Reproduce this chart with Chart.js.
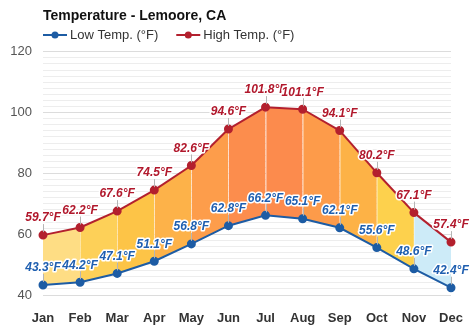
<!DOCTYPE html>
<html>
<head>
<meta charset="utf-8">
<script src="https://cdn.jsdelivr.net/npm/chart.js@4.4.1/dist/chart.umd.min.js"></script>
<style>
  html, body { margin: 0; padding: 0; background: #fff; }
  #wrap { width: 474px; height: 331px; position: relative; }
</style>
</head>
<body>
<div id="wrap"><canvas id="myChart"></canvas></div>
<script>
// data
const months = ['Jan', 'Feb', 'Mar', 'Apr', 'May', 'Jun', 'Jul', 'Aug', 'Sep', 'Oct', 'Nov', 'Dec'];
const lowTemps = [43.3, 44.2, 47.1, 51.1, 56.8, 62.8, 66.2, 65.1, 62.1, 55.6, 48.6, 42.4];
const highTemps = [59.7, 62.2, 67.6, 74.5, 82.6, 94.6, 101.8, 101.1, 94.1, 80.2, 67.1, 57.4];
const yTickLabels = [40, 60, 80, 100, 120];

// colour of the band between two months
const bandColors = ['#fedd84', '#fdd058', '#fdc447', '#fdb249', '#fd9d4b', '#fc8d4d',
                    '#fc8b4d', '#fd9b4a', '#fdb246', '#fdd14d', '#cdebf8'];

const lowColor = '#1d5ca4';
const highColor = '#b3202e';
const FONT = '"Liberation Sans", Arial, sans-serif';

// thin light lines inside the band at each month
const bandLines = {
  id: 'bandLines',
  beforeDatasetDraw(chart, args) {
    if (args.index !== 1) return;
    const lo = chart.getDatasetMeta(0).data;
    const hi = chart.getDatasetMeta(1).data;
    const ctx = chart.ctx;
    ctx.save();
    ctx.strokeStyle = 'rgba(255,255,255,0.35)';
    ctx.lineWidth = 1;
    for (let i = 1; i < hi.length - 1; i++) {
      ctx.beginPath();
      ctx.moveTo(Math.round(hi[i].x) + 0.5, hi[i].y);
      ctx.lineTo(Math.round(lo[i].x) + 0.5, lo[i].y);
      ctx.stroke();
    }
    ctx.restore();
  }
};

// value labels with a little leader line
const valueLabels = {
  id: 'valueLabels',
  afterDatasetsDraw(chart) {
    const ctx = chart.ctx;
    ctx.save();
    ctx.font = 'italic bold 12px ' + FONT;
    ctx.textAlign = 'center';
    ctx.textBaseline = 'middle';
    ctx.lineJoin = 'round';
    chart.data.datasets.forEach((ds, di) => {
      chart.getDatasetMeta(di).data.forEach((pt, i) => {
        const x = pt.x, y = pt.y;
        ctx.strokeStyle = '#b5b5b5';
        ctx.lineWidth = 1;
        ctx.beginPath();
        ctx.moveTo(Math.round(x) + 0.5, y - 11);
        ctx.lineTo(Math.round(x) + 0.5, y - 3);
        ctx.stroke();
        const txt = ds.data[i].toFixed(1) + '°F';
        ctx.strokeStyle = '#fff';
        ctx.lineWidth = 3;
        ctx.strokeText(txt, x, y - 17);
        ctx.fillStyle = ds.labelColor;
        ctx.fillText(txt, x, y - 17);
      });
    });
    ctx.restore();
  }
};

// legend drawn under the title, lined up with the plot's left edge
const lineLegend = {
  id: 'lineLegend',
  afterDraw(chart) {
    const ctx = chart.ctx;
    const y = 35;
    let x = chart.chartArea.left;
    ctx.save();
    ctx.font = '13px ' + FONT;
    ctx.textBaseline = 'middle';
    chart.data.datasets.forEach((ds) => {
      ctx.strokeStyle = ds.borderColor;
      ctx.fillStyle = ds.borderColor;
      ctx.lineWidth = 2;
      ctx.beginPath(); ctx.moveTo(x, y); ctx.lineTo(x + 24, y); ctx.stroke();
      ctx.beginPath(); ctx.arc(x + 12, y, 3.5, 0, Math.PI * 2); ctx.fill();
      ctx.fillStyle = '#333';
      ctx.fillText(ds.label, x + 27, y);
      x += 27 + ctx.measureText(ds.label).width + 18;
    });
    ctx.restore();
  }
};

const chart = new Chart(document.getElementById('myChart'), {
  type: 'line',
  data: {
    labels: months,
    datasets: [
      {
        label: 'Low Temp. (°F)',
        data: lowTemps,
        borderColor: lowColor,
        backgroundColor: lowColor,
        labelColor: '#1f5fb0',
        borderWidth: 2,
        pointRadius: 3.5,
        pointBackgroundColor: lowColor,
        fill: false,
        tension: 0
      },
      {
        label: 'High Temp. (°F)',
        data: highTemps,
        borderColor: highColor,
        backgroundColor: highColor,
        labelColor: '#b1182c',
        borderWidth: 2,
        pointRadius: 3.5,
        pointBackgroundColor: highColor,
        fill: 0,
        segment: {
          backgroundColor: (c) => bandColors[c.p0DataIndex]
        },
        tension: 0
      }
    ]
  },
  options: {
    responsive: true,
    maintainAspectRatio: false,
    animation: false,
    layout: { padding: { top: 2, right: 23, bottom: 0, left: 0 } },
    plugins: {
      title: {
        display: true,
        text: 'Temperature - Lemoore, CA',
        align: 'start',
        fullSize: false,
        color: '#111',
        font: { family: FONT, size: 14, weight: 'bold' },
        padding: { top: 6, bottom: 27 }
      },
      legend: { display: false },
      tooltip: { enabled: false }
    },
    scales: {
      x: {
        offset: false,
        grid: { display: false },
        border: { display: false },
        ticks: {
          color: '#333',
          padding: 8,
          font: { family: FONT, size: 13, weight: 'bold' }
        },
        afterFit: (s) => { s.height = 36; }
      },
      y: {
        min: 40,
        max: 120,
        border: { display: false },
        grid: {
          drawTicks: false,
          color: (c) => (c.tick && c.tick.value % 20 === 0) ? '#dcdcdc' : '#ededed'
        },
        ticks: {
          stepSize: 2,
          autoSkip: false,
          padding: 11,
          color: '#555',
          font: { family: FONT, size: 13 },
          callback: (v) => yTickLabels.includes(v) ? String(v) : ''
        },
        afterFit: (s) => { s.width = 43; }
      }
    }
  },
  plugins: [bandLines, valueLabels, lineLegend]
});
</script>
</body>
</html>
